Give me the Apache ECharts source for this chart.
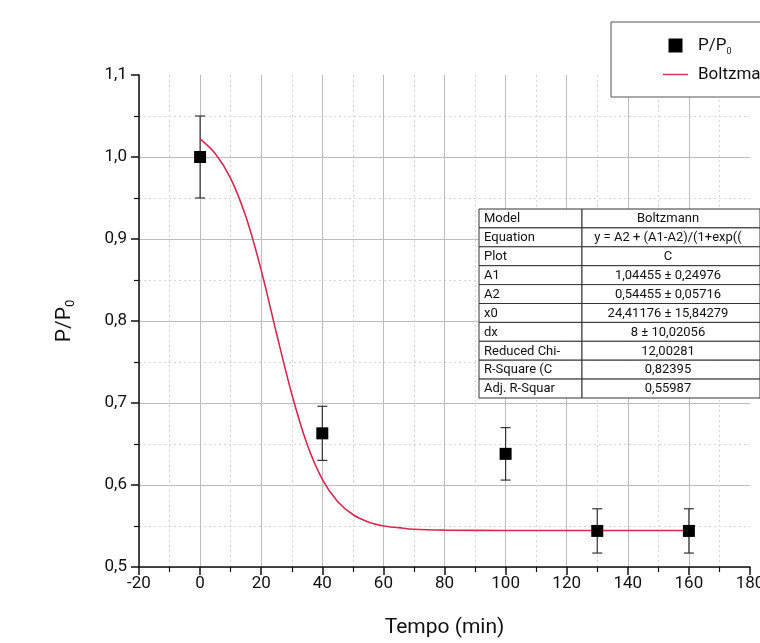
<!DOCTYPE html>
<html><head><meta charset="utf-8">
<script src="https://cdn.jsdelivr.net/npm/echarts@6/dist/echarts.min.js"></script>
<style>html,body{margin:0;padding:0;background:#fff}#c{width:760px;height:643px}</style>
</head><body><div id="c"></div>
<script>
// ---- data ----
const tempo = [0, 40, 100, 130, 160];
const ratio = [1.000, 0.663, 0.638, 0.544, 0.544];
const ratioErr = [0.050, 0.033, 0.032, 0.027, 0.027];
const fitX = [0, 5, 10, 15, 20, 25, 30, 35, 40, 45, 50, 55, 60, 65, 70, 80, 100, 120, 140, 160];
const fitY = [1.022, 1.004, 0.974, 0.927, 0.862, 0.785, 0.711, 0.650, 0.607, 0.580, 0.564, 0.555, 0.550, 0.548, 0.546, 0.545, 0.5446, 0.5446, 0.5446, 0.5446];
const tableKeys = ['Model', 'Equation', 'Plot', 'A1', 'A2', 'x0', 'dx', 'Reduced Chi-', 'R-Square (C', 'Adj. R-Squar'];
const tableVals = ['Boltzmann', 'y = A2 + (A1-A2)/(1+exp((', 'C', '1,04455 ± 0,24976', '0,54455 ± 0,05716', '24,41176 ± 15,84279', '8 ± 10,02056', '12,00281', '0,82395', '0,55987'];

const FONT = 'Roboto';
const chart = echarts.init(document.getElementById('c'), null, {renderer: 'canvas'});

// table graphic
const tx = 479, ty = 209, c1 = 103, c2 = 178, rh = 18.9;
const tableEls = [];
tableKeys.forEach((k, i) => {
  const y = ty + i * rh;
  tableEls.push({type: 'rect', shape: {x: tx, y: y, width: c1, height: rh}, style: {fill: '#fff', stroke: '#333', lineWidth: 1}, z: 100});
  tableEls.push({type: 'rect', shape: {x: tx + c1, y: y, width: c2, height: rh}, style: {fill: '#fff', stroke: '#333', lineWidth: 1}, z: 100});
  tableEls.push({type: 'text', x: tx + 5, y: y + rh / 2 + 0.5, style: {text: k, font: '13px ' + FONT, fill: '#111', verticalAlign: 'middle', align: 'left'}, z: 101});
  tableEls.push({type: 'text', x: tx + c1 + 86, y: y + rh / 2 + 0.5, style: {text: tableVals[i], font: '13px ' + FONT, fill: '#111', verticalAlign: 'middle', align: 'center'}, z: 101});
});

const gridCol = '#bdbdbd';

chart.setOption({
  animation: false,
  backgroundColor: '#fff',
  grid: {left: 139, right: 10, top: 75, bottom: 76, containLabel: false, outerBoundsMode: 'none'},
  legend: {
    orient: 'vertical', left: 611, top: 22,
    backgroundColor: '#fff', borderColor: '#555', borderWidth: 1, borderRadius: 0,
    padding: [15, 60, 14, 52], itemGap: 10, itemWidth: 25, itemHeight: 14,
    symbolKeepAspect: true,
    data: [{name: 'P/P0', icon: 'path://M0,0h10v10h-10z'}, {name: 'Boltzmann', icon: 'path://M0,0h25v1.4h-25z'}],
    formatter: n => n === 'P/P0' ? '{a|P/P}{s|0}' : '{a|Boltzmann}',
    textStyle: {fontFamily: FONT, fontSize: 17, color: '#111',
      rich: {a: {fontFamily: FONT, fontSize: 17, color: '#111', padding: [0, 0, 0, 5]}, s: {fontFamily: FONT, fontSize: 9, color: '#111', padding: [12, 0, 0, 0]}}}
  },
  xAxis: {
    type: 'value', min: -20, max: 180, interval: 20,
    name: 'Tempo (min)', nameLocation: 'middle', nameGap: 50,
    nameTextStyle: {fontFamily: FONT, fontSize: 21, color: '#111'},
    axisLine: {onZero: false, lineStyle: {color: '#111', width: 1.5}},
    axisTick: {inside: false, length: 8, lineStyle: {color: '#111', width: 1.5}},
    minorTick: {show: true, splitNumber: 2, length: 5, lineStyle: {color: '#111', width: 1.2}},
    axisLabel: {fontFamily: FONT, fontSize: 17, color: '#111', margin: 8, formatter: v => String(v)},
    splitLine: {show: true, lineStyle: {color: [gridCol, gridCol, gridCol, gridCol, gridCol, gridCol, gridCol, gridCol, gridCol, gridCol, 'rgba(0,0,0,0)'], width: 1}},
    minorSplitLine: {show: true, lineStyle: {color: '#d6d6d6', width: 1, type: [2, 3]}}
  },
  yAxis: {
    type: 'value', min: 0.5, max: 1.1, interval: 0.1,
    name: '{a|P/P}{s|0}', nameLocation: 'middle', nameGap: 62, nameRotate: 90,
    nameTextStyle: {fontFamily: FONT, fontSize: 21, color: '#111',
      rich: {a: {fontFamily: FONT, fontSize: 21, color: '#111'}, s: {fontFamily: FONT, fontSize: 13, color: '#111', padding: [12, 0, 0, 0]}}},
    axisLine: {show: true, onZero: false, lineStyle: {color: '#111', width: 1.5}},
    axisTick: {show: true, inside: false, length: 8, lineStyle: {color: '#111', width: 1.5}},
    minorTick: {show: true, splitNumber: 2, length: 5, lineStyle: {color: '#111', width: 1.2}},
    axisLabel: {fontFamily: FONT, fontSize: 17, color: '#111', margin: 12, formatter: v => v.toFixed(1).replace('.', ',')},
    splitLine: {show: true, lineStyle: {color: [gridCol, gridCol, gridCol, gridCol, gridCol, gridCol, 'rgba(0,0,0,0)'], width: 1}},
    minorSplitLine: {show: true, lineStyle: {color: '#d6d6d6', width: 1, type: [2, 3]}}
  },
  series: [
    {
      name: 'errbars', type: 'custom', z: 3,
      data: tempo.map((x, i) => [x, ratio[i] - ratioErr[i], ratio[i] + ratioErr[i]]),
      renderItem: (params, api) => {
        const lo = api.coord([api.value(0), api.value(1)]);
        const hi = api.coord([api.value(0), api.value(2)]);
        const w = 5;
        const st = {stroke: '#333', lineWidth: 1.2};
        return {type: 'group', children: [
          {type: 'line', shape: {x1: lo[0], y1: lo[1], x2: hi[0], y2: hi[1]}, style: st},
          {type: 'line', shape: {x1: lo[0] - w, y1: lo[1], x2: lo[0] + w, y2: lo[1]}, style: st},
          {type: 'line', shape: {x1: hi[0] - w, y1: hi[1], x2: hi[0] + w, y2: hi[1]}, style: st}
        ]};
      },
      silent: true
    },
    {
      name: 'Boltzmann', type: 'line', z: 4, smooth: 0.3, symbol: 'none', showSymbol: false,
      data: fitX.map((x, i) => [x, fitY[i]]),
      lineStyle: {color: '#d42a52', width: 1.6}, itemStyle: {color: '#d42a52'}
    },
    {
      name: 'P/P0', type: 'scatter', z: 5, symbol: 'rect', symbolSize: 12,
      data: tempo.map((x, i) => [x, ratio[i]]),
      itemStyle: {color: '#000', opacity: 1}
    }
  ],
  graphic: tableEls
});
</script></body></html>
